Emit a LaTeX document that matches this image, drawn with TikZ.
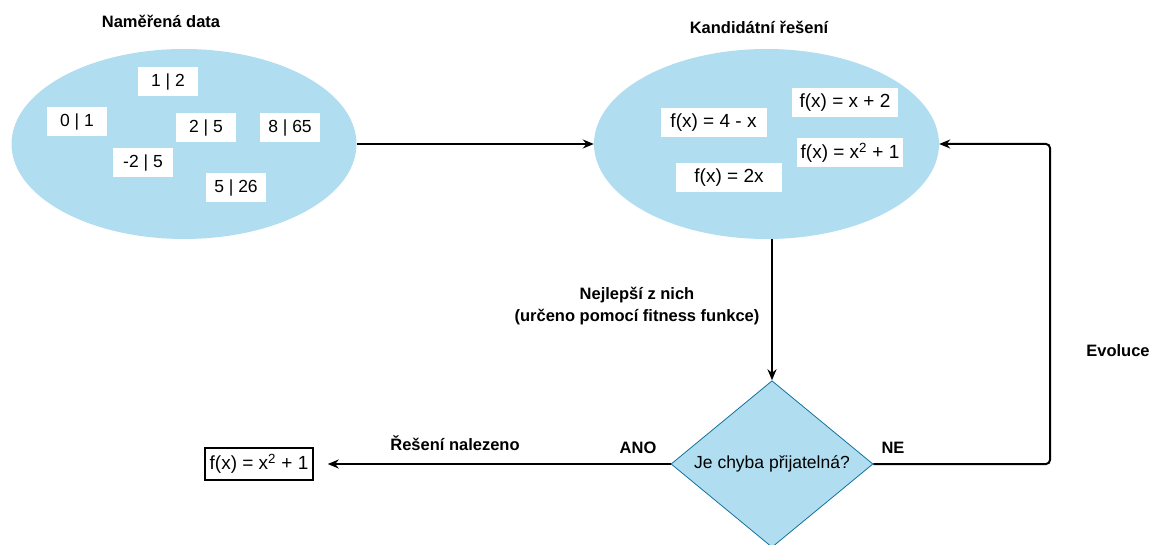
\documentclass[tikz,border=0pt]{standalone}
\usepackage{fontspec}
\setmainfont{Liberation Sans}
\usetikzlibrary{shapes.geometric,arrows.meta}
\definecolor{lblue}{HTML}{B1DDF0}
\definecolor{dblue}{HTML}{10739E}
\begin{document}
\begin{tikzpicture}[x=1pt,y=-1pt,
  blob/.style={ellipse,fill=lblue,draw=none,minimum width=345pt,minimum height=190pt,inner sep=0pt},
  val/.style={fill=white,draw=none,minimum width=60pt,minimum height=29pt,inner sep=0pt,font=\fontsize{17.5}{20}\selectfont},
  fun/.style={fill=white,draw=none,minimum width=106pt,minimum height=29pt,inner sep=0pt,font=\fontsize{19}{22}\selectfont},
  lbl/.style={font=\fontsize{16.5}{22}\selectfont\bfseries,align=center,inner sep=0pt},
  conn/.style={line width=2pt,-{Stealth[length=11pt,width=9pt]}},
  ]
\useasboundingbox (0,0) rectangle (1150,545);
% ellipses
\node[blob] (data) at (184,144) {};
\node[blob] (cand) at (766.5,144) {};
% titles
\node[lbl] (t1) at (161,21) {Naměřená data};
\node[lbl] (t2) at (759,27) {Kandidátní řešení};
% data values
\node[val] (v1) at (168,82) {1 | 2};
\node[val] (v2) at (77,122) {0 | 1};
\node[val] (v3) at (206,128) {2 | 5};
\node[val] (v4) at (290,128) {8 | 65};
\node[val] (v5) at (143,163) {-2 | 5};
\node[val] (v6) at (236,188) {5 | 26};
% candidate functions
\node[fun] (f1) at (713.5,122.5) {f(x) = 4 - x};
\node[fun] (f2) at (845,102.5) {f(x) = x + 2};
\node[fun] (f3) at (850,153) {f(x) = x\textsuperscript{2} + 1};
\node[fun] (f4) at (729,178) {f(x) = 2x};
% decision
\node[diamond,fill=lblue,draw=dblue,line width=0.8pt,minimum width=202pt,minimum height=166.6pt,
  inner sep=0pt,shape aspect=1.21,font=\fontsize{17.5}{20}\selectfont] (dec) at (772,464) {Je chyba přijatelná?};
% result
\node[draw,line width=1.5pt,minimum width=108pt,minimum height=32pt,inner sep=0pt,
  font=\fontsize{19}{22}\selectfont] (res) at (259,464) {f(x) = x\textsuperscript{2} + 1};
% connectors
\draw[conn] (data.east) -- (cand.west);
\draw[conn] (dec.north |- cand.south) -- (dec.north);
\draw[conn,shorten >=14pt] (dec.west) -- (res.east);
\coordinate (ev) at (1050,144);
\draw[conn,rounded corners=4pt] (dec.east) -| (ev) -- (cand.east);
% labels
\node[lbl] (best) at (637,306) {Nejlepší z nich\\(určeno pomocí fitness funkce)};
\node[lbl] (found) at (455,443) {Řešení nalezeno};
\node[lbl] (ano) at (638,448) {ANO};
\node[lbl] (ne) at (893,448) {NE};
\node[lbl] (evo) at (1118,351) {Evoluce};
\end{tikzpicture}
\end{document}
